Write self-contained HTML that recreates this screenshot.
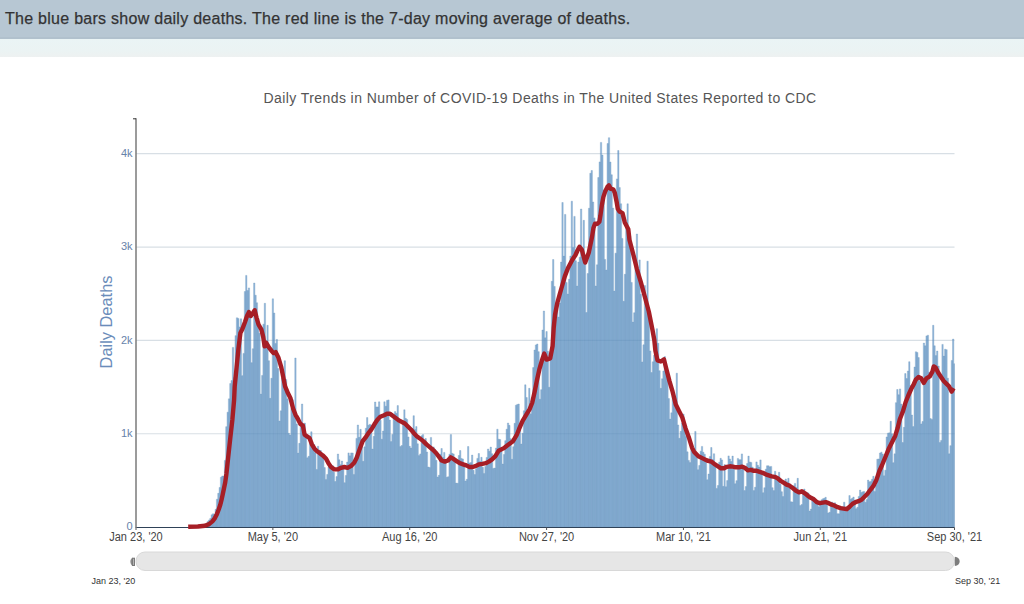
<!DOCTYPE html>
<html><head><meta charset="utf-8"><style>
html,body{margin:0;padding:0;background:#fff;width:1024px;height:604px;overflow:hidden;}
.hdr{position:absolute;left:0;top:0;width:1024px;height:39px;background:#b7c7d3;border-bottom:0;box-shadow:inset 0 -2px 0 #b1c1cd;}
.hdr span{position:absolute;left:5px;top:10px;font:16px "Liberation Sans",sans-serif;color:#333;white-space:nowrap;letter-spacing:0.27px;-webkit-text-stroke:0.25px #333;}
.band{position:absolute;left:0;top:39px;width:1024px;height:18px;background:linear-gradient(#eaf4f5,#ebf3f3 70%,#eef1f1);}
svg{position:absolute;left:0;top:0;}
.yt{font:11px "Liberation Sans",sans-serif;fill:#6783aa;}
.xt{font:12px "Liberation Sans",sans-serif;fill:#444;}
.tt{font:14px "Liberation Sans",sans-serif;fill:#555;letter-spacing:0.42px;}
.ax{font:16.4px "Liberation Sans",sans-serif;fill:#6b8cba;}
.sl{font:9px "Liberation Sans",sans-serif;fill:#333;}
</style></head><body>
<div class="hdr"><span>The blue bars show daily deaths. The red line is the 7-day moving average of deaths.</span></div>
<div class="band"></div>
<svg width="1024" height="604" viewBox="0 0 1024 604">
<text x="540" y="103" text-anchor="middle" class="tt">Daily Trends in Number of COVID-19 Deaths in The United States Reported to CDC</text>
<line x1="136.0" x2="954.5" y1="433.75" y2="433.75" stroke="#d8dfe5" stroke-width="1.2"/><line x1="136.0" x2="954.5" y1="340.40" y2="340.40" stroke="#d8dfe5" stroke-width="1.2"/><line x1="136.0" x2="954.5" y1="247.05" y2="247.05" stroke="#d8dfe5" stroke-width="1.2"/><line x1="136.0" x2="954.5" y1="153.70" y2="153.70" stroke="#d8dfe5" stroke-width="1.2"/>
<path d="M191.14 526.51H192.47V527.10H191.14ZM192.47 526.46H193.80V527.10H192.47ZM193.80 526.44H195.13V527.10H193.80ZM195.13 526.48H196.46V527.10H195.13ZM196.46 526.31H197.79V527.10H196.46ZM197.79 525.85H199.11V527.10H197.79ZM199.11 525.71H200.44V527.10H199.11ZM200.44 525.51H201.77V527.10H200.44ZM201.77 524.91H203.10V527.10H201.77ZM203.10 524.66H204.43V527.10H203.10ZM204.43 524.83H205.76V527.10H204.43ZM205.76 523.73H207.09V527.10H205.76ZM207.09 521.56H208.42V527.10H207.09ZM208.42 519.99H209.74V527.10H208.42ZM209.74 518.44H211.07V527.10H209.74ZM211.07 514.85H212.40V527.10H211.07ZM212.40 513.81H213.73V527.10H212.40ZM213.73 514.30H215.06V527.10H213.73ZM215.06 509.36H216.39V527.10H215.06ZM216.39 499.19H217.72V527.10H216.39ZM217.72 493.32H219.05V527.10H217.72ZM219.05 487.45H220.37V527.10H219.05ZM220.37 477.33H221.70V527.10H220.37ZM221.70 476.01H223.03V527.10H221.70ZM223.03 475.99H224.36V527.10H223.03ZM224.36 460.38H225.69V527.10H224.36ZM225.69 426.67H227.02V527.10H225.69ZM227.02 412.15H228.35V527.10H227.02ZM228.35 398.87H229.68V527.10H228.35ZM229.68 383.58H231.00V527.10H229.68ZM231.00 380.55H232.33V527.10H231.00ZM232.33 347.40H233.66V527.10H232.33ZM233.66 377.62H234.99V527.10H233.66ZM234.99 335.64H236.32V527.10H234.99ZM236.32 317.80H237.65V527.10H236.32ZM237.65 318.40H238.98V527.10H237.65ZM238.98 326.94H240.31V527.10H238.98ZM240.31 318.80H241.63V527.10H240.31ZM241.63 375.63H242.96V527.10H241.63ZM242.96 353.39H244.29V527.10H242.96ZM244.29 291.50H245.62V527.10H244.29ZM245.62 275.40H246.95V527.10H245.62ZM246.95 290.46H248.28V527.10H246.95ZM248.28 287.90H249.61V527.10H248.28ZM249.61 312.93H250.94V527.10H249.61ZM250.94 362.63H252.26V527.10H250.94ZM252.26 348.69H253.59V527.10H252.26ZM253.59 283.00H254.92V527.10H253.59ZM254.92 295.20H256.25V527.10H254.92ZM256.25 302.75H257.58V527.10H256.25ZM257.58 318.42H258.91V527.10H257.58ZM258.91 333.37H260.24V527.10H258.91ZM260.24 394.07H261.57V527.10H260.24ZM261.57 375.42H262.89V527.10H261.57ZM262.89 324.16H264.22V527.10H262.89ZM264.22 303.30H265.55V527.10H264.22ZM265.55 341.17H266.88V527.10H265.55ZM266.88 325.31H268.21V527.10H266.88ZM268.21 360.73H269.54V527.10H268.21ZM269.54 398.28H270.87V527.10H269.54ZM270.87 378.25H272.20V527.10H270.87ZM272.20 298.80H273.52V527.10H272.20ZM273.52 313.00H274.85V527.10H273.52ZM274.85 343.41H276.18V527.10H274.85ZM276.18 339.47H277.51V527.10H276.18ZM277.51 368.55H278.84V527.10H277.51ZM278.84 421.03H280.17V527.10H278.84ZM280.17 410.79H281.50V527.10H280.17ZM281.50 378.00H282.83V527.10H281.50ZM282.83 380.24H284.15V527.10H282.83ZM284.15 360.70H285.48V527.10H284.15ZM285.48 379.45H286.81V527.10H285.48ZM286.81 398.66H288.14V527.10H286.81ZM288.14 433.33H289.47V527.10H288.14ZM289.47 435.00H290.80V527.10H289.47ZM290.80 408.64H292.13V527.10H290.80ZM292.13 399.79H293.45V527.10H292.13ZM293.45 414.68H294.78V527.10H293.45ZM294.78 358.00H296.11V527.10H294.78ZM296.11 423.96H297.44V527.10H296.11ZM297.44 453.09H298.77V527.10H297.44ZM298.77 443.36H300.10V527.10H298.77ZM300.10 423.59H301.43V527.10H300.10ZM301.43 404.00H302.76V527.10H301.43ZM302.76 428.76H304.08V527.10H302.76ZM304.08 423.10H305.41V527.10H304.08ZM305.41 435.84H306.74V527.10H305.41ZM306.74 457.80H308.07V527.10H306.74ZM308.07 456.29H309.40V527.10H308.07ZM309.40 440.37H310.73V527.10H309.40ZM310.73 431.80H312.06V527.10H310.73ZM312.06 448.74H313.39V527.10H312.06ZM313.39 444.41H314.71V527.10H313.39ZM314.71 452.85H316.04V527.10H314.71ZM316.04 469.40H317.37V527.10H316.04ZM317.37 446.30H318.70V527.10H317.37ZM318.70 450.02H320.03V527.10H318.70ZM320.03 450.52H321.36V527.10H320.03ZM321.36 453.45H322.69V527.10H321.36ZM322.69 456.04H324.02V527.10H322.69ZM324.02 467.61H325.34V527.10H324.02ZM325.34 479.40H326.67V527.10H325.34ZM326.67 474.42H328.00V527.10H326.67ZM328.00 466.82H329.33V527.10H328.00ZM329.33 465.01H330.66V527.10H329.33ZM330.66 466.15H331.99V527.10H330.66ZM331.99 465.60H333.32V527.10H331.99ZM333.32 472.24H334.65V527.10H333.32ZM334.65 481.50H335.97V527.10H334.65ZM335.97 476.61H337.30V527.10H335.97ZM337.30 454.00H338.63V527.10H337.30ZM338.63 459.84H339.96V527.10H338.63ZM339.96 464.68H341.29V527.10H339.96ZM341.29 461.03H342.62V527.10H341.29ZM342.62 467.46H343.95V527.10H342.62ZM343.95 482.70H345.28V527.10H343.95ZM345.28 475.45H346.60V527.10H345.28ZM346.60 462.06H347.93V527.10H346.60ZM347.93 452.90H349.26V527.10H347.93ZM349.26 455.87H350.59V527.10H349.26ZM350.59 452.90H351.92V527.10H350.59ZM351.92 453.00H353.25V527.10H351.92ZM353.25 474.40H354.58V527.10H353.25ZM354.58 463.56H355.91V527.10H354.58ZM355.91 438.39H357.23V527.10H355.91ZM357.23 425.00H358.56V527.10H357.23ZM358.56 437.25H359.89V527.10H358.56ZM359.89 429.37H361.22V527.10H359.89ZM361.22 439.15H362.55V527.10H361.22ZM362.55 461.30H363.88V527.10H362.55ZM363.88 446.83H365.21V527.10H363.88ZM365.21 428.27H366.54V527.10H365.21ZM366.54 417.60H367.86V527.10H366.54ZM367.86 425.20H369.19V527.10H367.86ZM369.19 424.30H370.52V527.10H369.19ZM370.52 424.91H371.85V527.10H370.52ZM371.85 449.01H373.18V527.10H371.85ZM373.18 436.36H374.51V527.10H373.18ZM374.51 402.00H375.84V527.10H374.51ZM375.84 406.94H377.17V527.10H375.84ZM377.17 406.88H378.49V527.10H377.17ZM378.49 401.80H379.82V527.10H378.49ZM379.82 420.30H381.15V527.10H379.82ZM381.15 439.20H382.48V527.10H381.15ZM382.48 431.04H383.81V527.10H382.48ZM383.81 401.80H385.14V527.10H383.81ZM385.14 406.14H386.47V527.10H385.14ZM386.47 400.40H387.80V527.10H386.47ZM387.80 399.90H389.12V527.10H387.80ZM389.12 420.02H390.45V527.10H389.12ZM390.45 441.60H391.78V527.10H390.45ZM391.78 434.46H393.11V527.10H391.78ZM393.11 414.65H394.44V527.10H393.11ZM394.44 411.60H395.77V527.10H394.44ZM395.77 413.34H397.10V527.10H395.77ZM397.10 405.60H398.42V527.10H397.10ZM398.42 422.64H399.75V527.10H398.42ZM399.75 446.60H401.08V527.10H399.75ZM401.08 445.50H402.41V527.10H401.08ZM402.41 424.20H403.74V527.10H402.41ZM403.74 409.80H405.07V527.10H403.74ZM405.07 418.35H406.40V527.10H405.07ZM406.40 419.49H407.73V527.10H406.40ZM407.73 436.96H409.05V527.10H407.73ZM409.05 446.31H410.38V527.10H409.05ZM410.38 448.10H411.71V527.10H410.38ZM411.71 430.46H413.04V527.10H411.71ZM413.04 415.70H414.37V527.10H413.04ZM414.37 429.42H415.70V527.10H414.37ZM415.70 426.61H417.03V527.10H415.70ZM417.03 443.82H418.36V527.10H417.03ZM418.36 455.60H419.68V527.10H418.36ZM419.68 453.92H421.01V527.10H419.68ZM421.01 435.71H422.34V527.10H421.01ZM422.34 434.60H423.67V527.10H422.34ZM423.67 440.17H425.00V527.10H423.67ZM425.00 438.50H426.33V527.10H425.00ZM426.33 451.97H427.66V527.10H426.33ZM427.66 467.00H428.99V527.10H427.66ZM428.99 467.40H430.31V527.10H428.99ZM430.31 437.40H431.64V527.10H430.31ZM431.64 447.45H432.97V527.10H431.64ZM432.97 446.91H434.30V527.10H432.97ZM434.30 449.05H435.63V527.10H434.30ZM435.63 460.25H436.96V527.10H435.63ZM436.96 477.05H438.29V527.10H436.96ZM438.29 475.30H439.62V527.10H438.29ZM439.62 454.35H440.94V527.10H439.62ZM440.94 448.50H442.27V527.10H440.94ZM442.27 457.21H443.60V527.10H442.27ZM443.60 452.40H444.93V527.10H443.60ZM444.93 460.82H446.26V527.10H444.93ZM446.26 477.30H447.59V527.10H446.26ZM447.59 476.70H448.92V527.10H447.59ZM448.92 454.22H450.25V527.10H448.92ZM450.25 434.60H451.57V527.10H450.25ZM451.57 453.33H452.90V527.10H451.57ZM452.90 453.92H454.23V527.10H452.90ZM454.23 459.37H455.56V527.10H454.23ZM455.56 483.10H456.89V527.10H455.56ZM456.89 483.30H458.22V527.10H456.89ZM458.22 455.49H459.55V527.10H458.22ZM459.55 450.50H460.88V527.10H459.55ZM460.88 458.48H462.20V527.10H460.88ZM462.20 458.98H463.53V527.10H462.20ZM463.53 465.25H464.86V527.10H463.53ZM464.86 481.00H466.19V527.10H464.86ZM466.19 479.30H467.52V527.10H466.19ZM467.52 446.50H468.85V527.10H467.52ZM468.85 462.97H470.18V527.10H468.85ZM470.18 462.62H471.51V527.10H470.18ZM471.51 455.10H472.83V527.10H471.51ZM472.83 470.25H474.16V527.10H472.83ZM474.16 474.50H475.49V527.10H474.16ZM475.49 468.72H476.82V527.10H475.49ZM476.82 458.38H478.15V527.10H476.82ZM478.15 453.50H479.48V527.10H478.15ZM479.48 461.48H480.81V527.10H479.48ZM480.81 457.30H482.14V527.10H480.81ZM482.14 467.32H483.46V527.10H482.14ZM483.46 473.40H484.79V527.10H483.46ZM484.79 466.43H486.12V527.10H484.79ZM486.12 457.42H487.45V527.10H486.12ZM487.45 449.00H488.78V527.10H487.45ZM488.78 451.21H490.11V527.10H488.78ZM490.11 447.10H491.44V527.10H490.11ZM491.44 453.68H492.77V527.10H491.44ZM492.77 468.38H494.09V527.10H492.77ZM494.09 468.10H495.42V527.10H494.09ZM495.42 448.08H496.75V527.10H495.42ZM496.75 429.20H498.08V527.10H496.75ZM498.08 439.13H499.41V527.10H498.08ZM499.41 439.57H500.74V527.10H499.41ZM500.74 450.86H502.07V527.10H500.74ZM502.07 464.00H503.39V527.10H502.07ZM503.39 454.44H504.72V527.10H503.39ZM504.72 440.67H506.05V527.10H504.72ZM506.05 429.18H507.38V527.10H506.05ZM507.38 423.00H508.71V527.10H507.38ZM508.71 425.33H510.04V527.10H508.71ZM510.04 438.65H511.37V527.10H510.04ZM511.37 459.20H512.70V527.10H511.37ZM512.70 446.71H514.02V527.10H512.70ZM514.02 423.37H515.35V527.10H514.02ZM515.35 405.20H516.68V527.10H515.35ZM516.68 404.40H518.01V527.10H516.68ZM518.01 404.00H519.34V527.10H518.01ZM519.34 423.32H520.67V527.10H519.34ZM520.67 444.00H522.00V527.10H520.67ZM522.00 433.23H523.33V527.10H522.00ZM523.33 410.79H524.65V527.10H523.33ZM524.65 384.80H525.98V527.10H524.65ZM525.98 397.56H527.31V527.10H525.98ZM527.31 414.80H528.64V527.10H527.31ZM528.64 388.30H529.97V527.10H528.64ZM529.97 413.87H531.30V527.10H529.97ZM531.30 397.94H532.63V527.10H531.30ZM532.63 367.57H533.96V527.10H532.63ZM533.96 350.00H535.28V527.10H533.96ZM535.28 344.90H536.61V527.10H535.28ZM536.61 344.00H537.94V527.10H536.61ZM537.94 351.63H539.27V527.10H537.94ZM539.27 399.20H540.60V527.10H539.27ZM540.60 389.66H541.93V527.10H540.60ZM541.93 330.00H543.26V527.10H541.93ZM543.26 311.00H544.59V527.10H543.26ZM544.59 337.83H545.91V527.10H544.59ZM545.91 331.55H547.24V527.10H545.91ZM547.24 351.26H548.57V527.10H547.24ZM548.57 387.20H549.90V527.10H548.57ZM549.90 354.80H551.23V527.10H549.90ZM551.23 281.28H552.56V527.10H551.23ZM552.56 259.50H553.89V527.10H552.56ZM553.89 286.43H555.22V527.10H553.89ZM555.22 304.93H556.54V527.10H555.22ZM556.54 309.59H557.87V527.10H556.54ZM557.87 317.06H559.20V527.10H557.87ZM559.20 303.06H560.53V527.10H559.20ZM560.53 262.07H561.86V527.10H560.53ZM561.86 202.50H563.19V527.10H561.86ZM563.19 256.10H564.52V527.10H563.19ZM564.52 214.40H565.85V527.10H564.52ZM565.85 282.55H567.17V527.10H565.85ZM567.17 294.00H568.50V527.10H567.17ZM568.50 279.22H569.83V527.10H568.50ZM569.83 256.02H571.16V527.10H569.83ZM571.16 201.20H572.49V527.10H571.16ZM572.49 247.58H573.82V527.10H572.49ZM573.82 216.38H575.15V527.10H573.82ZM575.15 260.74H576.48V527.10H575.15ZM576.48 286.00H577.80V527.10H576.48ZM577.80 262.10H579.13V527.10H577.80ZM579.13 257.15H580.46V527.10H579.13ZM580.46 209.00H581.79V527.10H580.46ZM581.79 257.03H583.12V527.10H581.79ZM583.12 220.37H584.45V527.10H583.12ZM584.45 264.34H585.78V527.10H584.45ZM585.78 312.50H587.11V527.10H585.78ZM587.11 273.56H588.43V527.10H587.11ZM588.43 208.23H589.76V527.10H588.43ZM589.76 173.30H591.09V527.10H589.76ZM591.09 170.50H592.42V527.10H591.09ZM592.42 201.99H593.75V527.10H592.42ZM593.75 217.89H595.08V527.10H593.75ZM595.08 286.00H596.41V527.10H595.08ZM596.41 264.79H597.73V527.10H596.41ZM597.73 177.54H599.06V527.10H597.73ZM599.06 161.92H600.39V527.10H599.06ZM600.39 142.40H601.72V527.10H600.39ZM601.72 155.10H603.05V527.10H601.72ZM603.05 190.03H604.38V527.10H603.05ZM604.38 259.42H605.71V527.10H604.38ZM605.71 270.00H607.04V527.10H605.71ZM607.04 143.50H608.36V527.10H607.04ZM608.36 137.70H609.69V527.10H608.36ZM609.69 162.00H611.02V527.10H609.69ZM611.02 174.76H612.35V527.10H611.02ZM612.35 208.10H613.68V527.10H612.35ZM613.68 291.12H615.01V527.10H613.68ZM615.01 253.14H616.34V527.10H615.01ZM616.34 178.88H617.67V527.10H616.34ZM617.67 150.50H618.99V527.10H617.67ZM618.99 187.60H620.32V527.10H618.99ZM620.32 203.77H621.65V527.10H620.32ZM621.65 238.43H622.98V527.10H621.65ZM622.98 301.33H624.31V527.10H622.98ZM624.31 274.29H625.64V527.10H624.31ZM625.64 226.80H626.97V527.10H625.64ZM626.97 203.80H628.30V527.10H626.97ZM628.30 236.03H629.62V527.10H628.30ZM629.62 235.87H630.95V527.10H629.62ZM630.95 282.45H632.28V527.10H630.95ZM632.28 322.00H633.61V527.10H632.28ZM633.61 312.72H634.94V527.10H633.61ZM634.94 261.66H636.27V527.10H634.94ZM636.27 234.00H637.60V527.10H636.27ZM637.60 276.79H638.93V527.10H637.60ZM638.93 259.90H640.25V527.10H638.93ZM640.25 294.33H641.58V527.10H640.25ZM641.58 361.90H642.91V527.10H641.58ZM642.91 344.84H644.24V527.10H642.91ZM644.24 285.62H645.57V527.10H644.24ZM645.57 297.76H646.90V527.10H645.57ZM646.90 261.20H648.23V527.10H646.90ZM648.23 307.62H649.56V527.10H648.23ZM649.56 350.90H650.88V527.10H649.56ZM650.88 372.50H652.21V527.10H650.88ZM652.21 361.80H653.54V527.10H652.21ZM653.54 355.20H654.87V527.10H653.54ZM654.87 342.68H656.20V527.10H654.87ZM656.20 328.70H657.53V527.10H656.20ZM657.53 343.25H658.86V527.10H657.53ZM658.86 370.70H660.19V527.10H658.86ZM660.19 388.30H661.51V527.10H660.19ZM661.51 378.75H662.84V527.10H661.51ZM662.84 371.05H664.17V527.10H662.84ZM664.17 356.60H665.50V527.10H664.17ZM665.50 371.47H666.83V527.10H665.50ZM666.83 371.54H668.16V527.10H666.83ZM668.16 398.58H669.49V527.10H668.16ZM669.49 419.06H670.82V527.10H669.49ZM670.82 412.83H672.14V527.10H670.82ZM672.14 395.62H673.47V527.10H672.14ZM673.47 403.19H674.80V527.10H673.47ZM674.80 402.56H676.13V527.10H674.80ZM676.13 373.20H677.46V527.10H676.13ZM677.46 424.96H678.79V527.10H677.46ZM678.79 438.26H680.12V527.10H678.79ZM680.12 431.33H681.45V527.10H680.12ZM681.45 422.94H682.77V527.10H681.45ZM682.77 414.10H684.10V527.10H682.77ZM684.10 428.97H685.43V527.10H684.10ZM685.43 436.46H686.76V527.10H685.43ZM686.76 451.85H688.09V527.10H686.76ZM688.09 460.39H689.42V527.10H688.09ZM689.42 462.60H690.75V527.10H689.42ZM690.75 448.87H692.08V527.10H690.75ZM692.08 450.42H693.40V527.10H692.08ZM693.40 451.15H694.73V527.10H693.40ZM694.73 431.40H696.06V527.10H694.73ZM696.06 456.48H697.39V527.10H696.06ZM697.39 469.67H698.72V527.10H697.39ZM698.72 465.45H700.05V527.10H698.72ZM700.05 451.17H701.38V527.10H700.05ZM701.38 446.40H702.70V527.10H701.38ZM702.70 452.27H704.03V527.10H702.70ZM704.03 454.13H705.36V527.10H704.03ZM705.36 462.47H706.69V527.10H705.36ZM706.69 479.77H708.02V527.10H706.69ZM708.02 474.02H709.35V527.10H708.02ZM709.35 456.48H710.68V527.10H709.35ZM710.68 447.50H712.01V527.10H710.68ZM712.01 459.55H713.33V527.10H712.01ZM713.33 453.74H714.66V527.10H713.33ZM714.66 463.58H715.99V527.10H714.66ZM715.99 488.40H717.32V527.10H715.99ZM717.32 485.51H718.65V527.10H717.32ZM718.65 462.15H719.98V527.10H718.65ZM719.98 458.30H721.31V527.10H719.98ZM721.31 459.90H722.64V527.10H721.31ZM722.64 486.30H723.96V527.10H722.64ZM723.96 464.53H725.29V527.10H723.96ZM725.29 486.70H726.62V527.10H725.29ZM726.62 480.62H727.95V527.10H726.62ZM727.95 455.90H729.28V527.10H727.95ZM729.28 458.99H730.61V527.10H729.28ZM730.61 461.48H731.94V527.10H730.61ZM731.94 456.10H733.27V527.10H731.94ZM733.27 467.54H734.59V527.10H733.27ZM734.59 483.70H735.92V527.10H734.59ZM735.92 480.63H737.25V527.10H735.92ZM737.25 458.40H738.58V527.10H737.25ZM738.58 459.71H739.91V527.10H738.58ZM739.91 459.66H741.24V527.10H739.91ZM741.24 453.90H742.57V527.10H741.24ZM742.57 466.81H743.90V527.10H742.57ZM743.90 490.60H745.22V527.10H743.90ZM745.22 486.58H746.55V527.10H745.22ZM746.55 463.53H747.88V527.10H746.55ZM747.88 456.10H749.21V527.10H747.88ZM749.21 461.96H750.54V527.10H749.21ZM750.54 462.40H751.87V527.10H750.54ZM751.87 467.07H753.20V527.10H751.87ZM753.20 490.60H754.53V527.10H753.20ZM754.53 487.21H755.85V527.10H754.53ZM755.85 461.90H757.18V527.10H755.85ZM757.18 465.33H758.51V527.10H757.18ZM758.51 467.05H759.84V527.10H758.51ZM759.84 459.90H761.17V527.10H759.84ZM761.17 474.19H762.50V527.10H761.17ZM762.50 492.70H763.83V527.10H762.50ZM763.83 487.72H765.16V527.10H763.83ZM765.16 469.15H766.48V527.10H765.16ZM766.48 465.80H767.81V527.10H766.48ZM767.81 465.80H769.14V527.10H767.81ZM769.14 466.80H770.47V527.10H769.14ZM770.47 466.40H771.80V527.10H770.47ZM771.80 487.70H773.13V527.10H771.80ZM773.13 490.60H774.46V527.10H773.13ZM774.46 471.30H775.79V527.10H774.46ZM775.79 476.31H777.11V527.10H775.79ZM777.11 479.67H778.44V527.10H777.11ZM778.44 472.30H779.77V527.10H778.44ZM779.77 484.24H781.10V527.10H779.77ZM781.10 491.70H782.43V527.10H781.10ZM782.43 496.50H783.76V527.10H782.43ZM783.76 482.32H785.09V527.10H783.76ZM785.09 479.00H786.42V527.10H785.09ZM786.42 481.72H787.74V527.10H786.42ZM787.74 478.30H789.07V527.10H787.74ZM789.07 487.01H790.40V527.10H789.07ZM790.40 501.70H791.73V527.10H790.40ZM791.73 502.00H793.06V527.10H791.73ZM793.06 485.85H794.39V527.10H793.06ZM794.39 483.40H795.72V527.10H794.39ZM795.72 487.61H797.05V527.10H795.72ZM797.05 478.30H798.37V527.10H797.05ZM798.37 491.36H799.70V527.10H798.37ZM799.70 505.60H801.03V527.10H799.70ZM801.03 504.46H802.36V527.10H801.03ZM802.36 490.66H803.69V527.10H802.36ZM803.69 489.01H805.02V527.10H803.69ZM805.02 494.26H806.35V527.10H805.02ZM806.35 492.52H807.67V527.10H806.35ZM807.67 492.90H809.00V527.10H807.67ZM809.00 511.00H810.33V527.10H809.00ZM810.33 509.11H811.66V527.10H810.33ZM811.66 498.64H812.99V527.10H811.66ZM812.99 497.80H814.32V527.10H812.99ZM814.32 501.15H815.65V527.10H814.32ZM815.65 500.58H816.98V527.10H815.65ZM816.98 502.40H818.30V527.10H816.98ZM818.30 506.70H819.63V527.10H818.30ZM819.63 505.03H820.96V527.10H819.63ZM820.96 499.79H822.29V527.10H820.96ZM822.29 498.80H823.62V527.10H822.29ZM823.62 498.30H824.95V527.10H823.62ZM824.95 497.30H826.28V527.10H824.95ZM826.28 503.46H827.61V527.10H826.28ZM827.61 512.90H828.93V527.10H827.61ZM828.93 512.30H830.26V527.10H828.93ZM830.26 502.10H831.59V527.10H830.26ZM831.59 502.19H832.92V527.10H831.59ZM832.92 504.84H834.25V527.10H832.92ZM834.25 502.70H835.58V527.10H834.25ZM835.58 507.52H836.91V527.10H835.58ZM836.91 513.70H838.24V527.10H836.91ZM838.24 513.80H839.56V527.10H838.24ZM839.56 506.87H840.89V527.10H839.56ZM840.89 506.83H842.22V527.10H840.89ZM842.22 507.72H843.55V527.10H842.22ZM843.55 502.20H844.88V527.10H843.55ZM844.88 507.13H846.21V527.10H844.88ZM846.21 511.70H847.54V527.10H846.21ZM847.54 509.43H848.87V527.10H847.54ZM848.87 495.60H850.19V527.10H848.87ZM850.19 499.26H851.52V527.10H850.19ZM851.52 498.35H852.85V527.10H851.52ZM852.85 497.09H854.18V527.10H852.85ZM854.18 500.21H855.51V527.10H854.18ZM855.51 508.70H856.84V527.10H855.51ZM856.84 507.26H858.17V527.10H856.84ZM858.17 496.42H859.50V527.10H858.17ZM859.50 490.10H860.82V527.10H859.50ZM860.82 492.40H862.15V527.10H860.82ZM862.15 491.80H863.48V527.10H862.15ZM863.48 491.39H864.81V527.10H863.48ZM864.81 502.20H866.14V527.10H864.81ZM866.14 499.43H867.47V527.10H866.14ZM867.47 480.10H868.80V527.10H867.47ZM868.80 481.69H870.13V527.10H868.80ZM870.13 481.40H871.45V527.10H870.13ZM871.45 479.20H872.78V527.10H871.45ZM872.78 476.32H874.11V527.10H872.78ZM874.11 491.39H875.44V527.10H874.11ZM875.44 484.76H876.77V527.10H875.44ZM876.77 459.20H878.10V527.10H876.77ZM878.10 458.94H879.43V527.10H878.10ZM879.43 453.00H880.76V527.10H879.43ZM880.76 452.16H882.08V527.10H880.76ZM882.08 453.97H883.41V527.10H882.08ZM883.41 475.77H884.74V527.10H883.41ZM884.74 470.24H886.07V527.10H884.74ZM886.07 436.94H887.40V527.10H886.07ZM887.40 433.14H888.73V527.10H887.40ZM888.73 432.86H890.06V527.10H888.73ZM890.06 421.30H891.39V527.10H890.06ZM891.39 433.79H892.71V527.10H891.39ZM892.71 462.67H894.04V527.10H892.71ZM894.04 453.87H895.37V527.10H894.04ZM895.37 402.67H896.70V527.10H895.37ZM896.70 389.50H898.03V527.10H896.70ZM898.03 394.72H899.36V527.10H898.03ZM899.36 388.90H900.69V527.10H899.36ZM900.69 404.07H902.02V527.10H900.69ZM902.02 442.50H903.34V527.10H902.02ZM903.34 427.37H904.67V527.10H903.34ZM904.67 373.60H906.00V527.10H904.67ZM906.00 378.49H907.33V527.10H906.00ZM907.33 371.00H908.66V527.10H907.33ZM908.66 361.70H909.99V527.10H908.66ZM909.99 385.57H911.32V527.10H909.99ZM911.32 415.00H912.64V527.10H911.32ZM912.64 426.60H913.97V527.10H912.64ZM913.97 367.00H915.30V527.10H913.97ZM915.30 351.80H916.63V527.10H915.30ZM916.63 352.40H917.96V527.10H916.63ZM917.96 357.60H919.29V527.10H917.96ZM919.29 381.32H920.62V527.10H919.29ZM920.62 423.90H921.95V527.10H920.62ZM921.95 421.50H923.27V527.10H921.95ZM923.27 343.10H924.60V527.10H923.27ZM924.60 345.80H925.93V527.10H924.60ZM925.93 335.90H927.26V527.10H925.93ZM927.26 335.20H928.59V527.10H927.26ZM928.59 372.34H929.92V527.10H928.59ZM929.92 418.60H931.25V527.10H929.92ZM931.25 419.40H932.58V527.10H931.25ZM932.58 325.30H933.90V527.10H932.58ZM933.90 345.80H935.23V527.10H933.90ZM935.23 355.60H936.56V527.10H935.23ZM936.56 351.10H937.89V527.10H936.56ZM937.89 366.09H939.22V527.10H937.89ZM939.22 442.50H940.55V527.10H939.22ZM940.55 440.43H941.88V527.10H940.55ZM941.88 344.40H943.21V527.10H941.88ZM943.21 356.11H944.53V527.10H943.21ZM944.53 349.20H945.86V527.10H944.53ZM945.86 349.70H947.19V527.10H945.86ZM947.19 378.15H948.52V527.10H947.19ZM948.52 453.80H949.85V527.10H948.52ZM949.85 445.65H951.18V527.10H949.85ZM951.18 360.40H952.51V527.10H951.18ZM952.51 339.10H953.84V527.10H952.51ZM953.84 363.70H954.50V527.10H953.84Z" fill="rgb(104,155,205)" stroke="rgb(67,121,172)" stroke-width="0.35" opacity="0.75"/>
<line x1="136.0" x2="954.5" y1="527.5" y2="527.5" stroke="#2f4258" stroke-width="1"/>
<polyline points="188.2,526.8 197.9,526.5 205.0,525.7 209.1,524.1 212.4,521.4 214.9,518.1 217.0,513.9 218.6,509.8 220.3,504.8 221.5,499.9 222.8,494.1 224.0,488.3 225.2,482.5 226.4,474.0 228.0,459.0 230.2,438.7 232.4,419.4 234.1,400.0 234.7,386.4 236.6,367.4 238.5,348.3 240.4,333.1 242.3,329.3 245.1,321.7 247.0,316.0 248.9,312.1 250.8,316.0 252.8,313.1 254.7,310.2 256.6,317.8 258.5,324.5 261.3,329.3 263.2,336.9 264.6,346.4 266.1,342.6 268.9,347.4 271.8,351.2 273.7,353.1 275.6,352.1 278.5,357.8 281.3,367.4 283.2,376.9 285.1,386.4 288.0,393.3 290.5,398.2 293.0,408.2 295.5,414.8 297.9,418.9 300.4,423.9 302.9,425.6 304.6,434.7 307.0,436.3 309.5,438.0 312.0,444.6 314.5,448.7 317.0,451.2 319.5,452.9 322.8,455.4 326.1,458.7 328.6,463.6 331.0,467.0 334.4,469.4 337.7,469.4 341.0,467.8 344.3,467.0 347.6,467.8 350.9,466.1 354.2,462.8 356.7,457.8 359.5,449.6 362.5,441.4 365.4,437.7 368.4,433.2 371.4,429.5 374.4,424.3 377.4,419.8 380.3,416.8 384.1,415.3 387.0,413.8 390.0,413.8 393.0,416.1 396.0,418.3 399.0,420.6 402.0,422.0 404.9,423.5 407.9,426.5 410.9,429.5 413.9,433.2 416.8,436.2 419.8,438.4 423.2,441.1 426.5,444.4 429.7,447.1 432.9,449.8 436.1,453.0 439.4,457.3 441.5,460.5 444.8,461.6 448.0,460.5 450.7,457.3 453.4,458.9 456.6,461.1 459.8,463.2 463.1,464.3 466.3,465.4 469.5,467.0 472.7,467.0 476.0,465.9 479.2,464.3 482.4,463.8 485.7,463.2 488.9,461.6 492.1,459.4 495.4,456.2 498.6,450.8 503.4,448.4 508.2,444.8 513.0,441.2 516.6,435.2 519.0,429.2 522.6,420.8 526.2,414.8 529.8,408.8 532.2,402.8 534.6,392.0 537.0,380.0 539.4,369.2 541.8,360.8 544.2,353.6 546.6,359.6 550.2,358.4 552.6,346.0 553.7,328.0 555.0,315.0 557.3,303.0 559.5,295.0 561.5,288.0 564.8,276.4 568.0,268.0 572.2,259.9 575.5,255.0 577.5,250.5 579.5,246.8 581.8,249.6 585.2,262.5 588.8,252.5 592.0,237.0 593.5,227.7 595.0,223.7 597.4,223.7 599.4,221.7 600.4,215.7 601.9,204.8 603.4,196.9 605.4,190.9 607.4,186.9 608.9,185.4 610.8,188.9 613.3,189.4 614.8,192.9 616.8,202.8 617.8,208.8 619.5,211.5 622.5,213.1 624.8,222.4 628.3,229.3 629.5,240.0 633.0,253.2 636.9,269.1 640.9,282.4 644.9,297.0 648.8,311.5 652.5,330.0 654.3,340.0 655.4,350.8 657.5,360.4 660.8,361.5 664.0,359.4 666.1,368.0 669.4,380.9 672.6,391.7 675.8,404.6 679.0,411.0 682.3,417.5 685.5,428.2 688.7,436.9 692.0,447.6 694.1,451.9 698.4,456.2 702.7,458.4 707.0,460.5 711.3,461.6 715.0,464.4 718.0,466.3 721.0,468.3 724.0,468.3 726.9,466.8 729.9,466.3 732.9,466.6 735.9,467.3 738.9,467.3 741.8,466.6 744.8,467.8 747.8,470.3 750.8,469.8 753.8,470.8 756.7,470.8 759.7,471.8 762.7,472.8 765.7,474.3 768.7,475.3 771.7,476.3 774.6,476.8 777.6,478.3 780.6,480.8 783.6,482.7 786.6,484.7 789.6,485.7 793.0,488.3 796.0,490.8 798.9,492.3 801.9,491.3 804.9,493.3 807.9,495.8 810.9,497.8 813.8,499.3 816.8,502.2 819.8,503.2 822.8,502.7 825.8,502.2 828.7,503.2 831.7,504.7 834.7,505.7 837.7,507.2 840.6,508.2 843.6,508.7 846.6,509.2 849.6,506.7 852.6,503.7 855.5,502.2 858.5,501.2 861.5,499.8 864.5,496.8 867.5,493.8 870.4,489.8 873.4,485.9 876.4,479.9 879.4,471.0 881.9,465.5 885.6,456.5 888.6,449.1 892.4,441.6 895.3,435.7 897.6,428.2 899.8,419.3 902.8,411.8 905.5,402.5 908.3,395.5 911.2,389.0 913.6,384.5 915.8,379.6 918.5,377.0 921.1,378.3 923.8,382.9 926.4,378.3 929.8,376.3 932.4,371.7 933.7,366.4 935.7,367.7 938.4,373.0 941.0,377.0 943.7,381.0 946.3,383.6 949.0,386.3 951.6,391.6 953.6,388.2" fill="none" stroke="#a61e26" stroke-width="4.4" stroke-linejoin="round" stroke-linecap="butt"/>
<line x1="136.0" x2="136.0" y1="118.3" y2="528" stroke="#7a7a7a" stroke-width="1.5"/>
<line x1="133" x2="136.0" y1="118.8" y2="118.8" stroke="#333" stroke-width="1"/>
<text x="132.5" y="530.3" text-anchor="end" class="yt">0</text><text x="132.5" y="436.9" text-anchor="end" class="yt">1k</text><text x="132.5" y="343.6" text-anchor="end" class="yt">2k</text><text x="132.5" y="250.2" text-anchor="end" class="yt">3k</text><text x="132.5" y="156.9" text-anchor="end" class="yt">4k</text>
<line x1="136.00" x2="136.00" y1="527.5" y2="530" stroke="#555" stroke-width="1"/><text x="136.00" y="540.5" text-anchor="middle" class="xt" textLength="53.5" lengthAdjust="spacingAndGlyphs">Jan 23, '20</text><line x1="272.86" x2="272.86" y1="527.5" y2="530" stroke="#555" stroke-width="1"/><text x="272.86" y="540.5" text-anchor="middle" class="xt" textLength="50.4" lengthAdjust="spacingAndGlyphs">May 5, '20</text><line x1="409.72" x2="409.72" y1="527.5" y2="530" stroke="#555" stroke-width="1"/><text x="409.72" y="540.5" text-anchor="middle" class="xt" textLength="55.4" lengthAdjust="spacingAndGlyphs">Aug 16, '20</text><line x1="546.58" x2="546.58" y1="527.5" y2="530" stroke="#555" stroke-width="1"/><text x="546.58" y="540.5" text-anchor="middle" class="xt" textLength="55.3" lengthAdjust="spacingAndGlyphs">Nov 27, '20</text><line x1="683.44" x2="683.44" y1="527.5" y2="530" stroke="#555" stroke-width="1"/><text x="683.44" y="540.5" text-anchor="middle" class="xt" textLength="54.7" lengthAdjust="spacingAndGlyphs">Mar 10, '21</text><line x1="820.30" x2="820.30" y1="527.5" y2="530" stroke="#555" stroke-width="1"/><text x="820.30" y="540.5" text-anchor="middle" class="xt" textLength="53.5" lengthAdjust="spacingAndGlyphs">Jun 21, '21</text><line x1="954.50" x2="954.50" y1="527.5" y2="530" stroke="#555" stroke-width="1"/><text x="954.50" y="540.5" text-anchor="middle" class="xt" textLength="55.4" lengthAdjust="spacingAndGlyphs">Sep 30, '21</text>
<text transform="translate(112,322) rotate(-90)" text-anchor="middle" class="ax">Daily Deaths</text>
<rect x="136" y="552" width="818.5" height="18.5" rx="9" fill="#e6e6e6" stroke="#d8d8d8" stroke-width="1"/>
<path d="M132.2 557.6 Q128.6 561.8 132.2 566 Z" fill="#8a8a8a"/>
<rect x="132" y="557.7" width="3" height="8.3" fill="#7a7a7a"/><rect x="133" y="558.8" width="1" height="6.1" fill="#b5b5b5"/>
<path d="M954.8 556.7 C961.3 556.9 961.3 565.8 954.8 566 Z" fill="#7d7d7d"/>
<text x="91.5" y="584" class="sl">Jan 23, '20</text>
<text x="955" y="584" class="sl">Sep 30, '21</text>
</svg>
</body></html>
